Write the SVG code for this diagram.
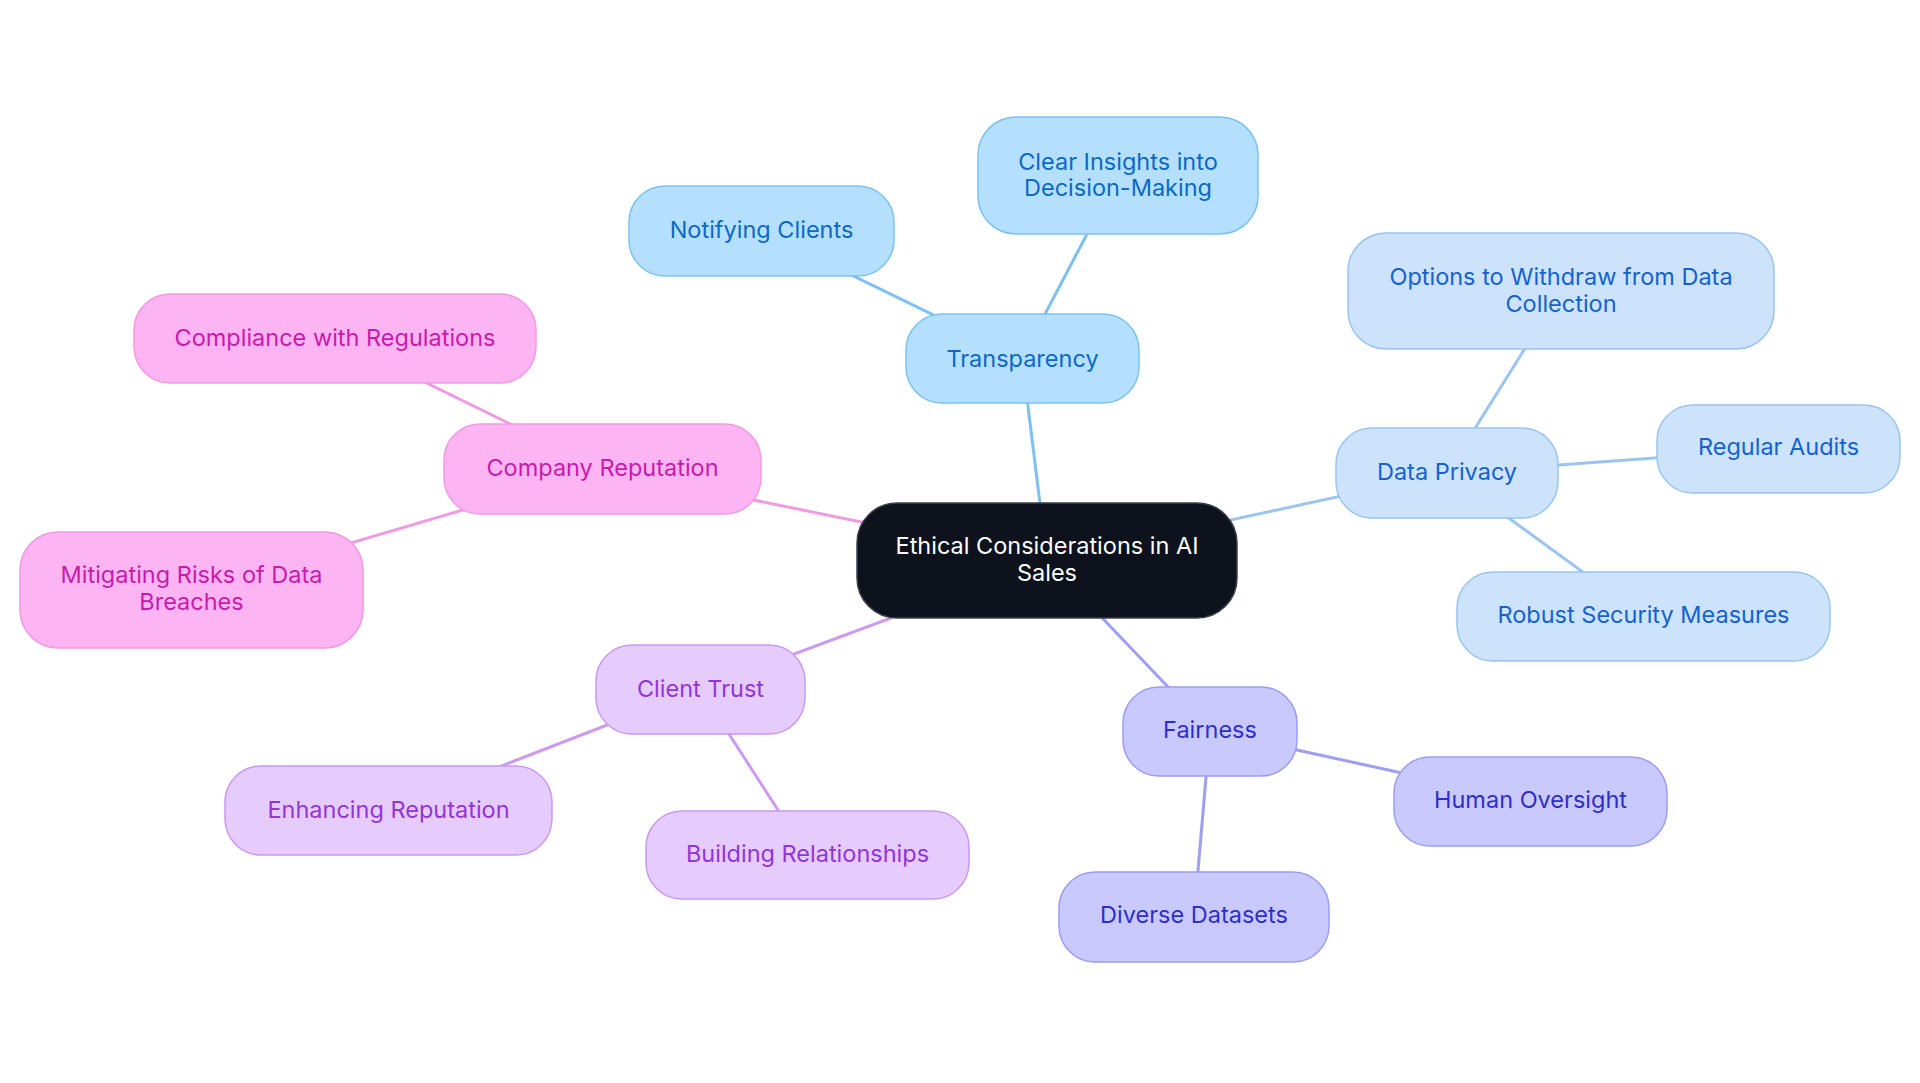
<svg xmlns="http://www.w3.org/2000/svg" width="1920" height="1083" viewBox="0 0 1920 1083">
<style>
text{font-family:Inter,"Noto Sans","Liberation Sans",sans-serif;font-size:23.5px;text-anchor:middle}
.c line{stroke-width:3;fill:none}
.n rect{stroke-width:1.5}
.t rect{fill:#b5e0fd;stroke:#7cc1f1}.t text{fill:#0a69c7}
.d rect{fill:#cde3fb;stroke:#9ac4f0}.d text{fill:#1462cf}
.f rect{fill:#c9c9fd;stroke:#9b9cf2}.f text{fill:#2e2ec9}
.ct rect{fill:#e6cbfd;stroke:#cb98f1}.ct text{fill:#9334d8}
.cr rect{fill:#fdb4f3;stroke:#f09ae2}.cr text{fill:#c81aab}
</style>
<rect width="1920" height="1083" fill="#ffffff"/>
<g id="connectors" class="c">
<line x1="1022" y1="358" x2="1047" y2="560" stroke="#7dc0f1"/>
<line x1="761" y1="231" x2="1022" y2="358" stroke="#7dc0f1"/>
<line x1="1118" y1="175" x2="1022" y2="358" stroke="#7dc0f1"/>
<line x1="1047" y1="560" x2="1447" y2="473" stroke="#9cc4f0"/>
<line x1="1561" y1="291" x2="1447" y2="473" stroke="#9cc4f0"/>
<line x1="1447" y1="473" x2="1778" y2="449" stroke="#9cc4f0"/>
<line x1="1447" y1="473" x2="1643" y2="616" stroke="#9cc4f0"/>
<line x1="1047" y1="560" x2="1210" y2="731" stroke="#9d9ef4"/>
<line x1="1210" y1="731" x2="1530" y2="801" stroke="#9d9ef4"/>
<line x1="1210" y1="731" x2="1194" y2="917" stroke="#9d9ef4"/>
<line x1="1047" y1="560" x2="700" y2="689" stroke="#cc9af2"/>
<line x1="700" y1="689" x2="388" y2="810" stroke="#cc9af2"/>
<line x1="700" y1="689" x2="807" y2="855" stroke="#cc9af2"/>
<line x1="1047" y1="560" x2="602" y2="469" stroke="#f09ae2"/>
<line x1="602" y1="469" x2="335" y2="338" stroke="#f09ae2"/>
<line x1="602" y1="469" x2="191" y2="590" stroke="#f09ae2"/>
</g>
<g id="center">
<rect x="857" y="503" width="380" height="115" rx="40" fill="#0d121c" stroke="#3c4048" stroke-width="1.5"/>
<text x="1047" y="554" fill="#ffffff">Ethical Considerations in AI</text>
<text x="1047" y="581" fill="#ffffff">Sales</text>
</g>
<g id="transparency" class="n t"><rect x="906" y="314" width="233" height="89" rx="36"/><text x="1022.5" y="367">Transparency</text></g>
<g id="notifying-clients" class="n t"><rect x="629" y="186" width="265" height="90" rx="36"/><text x="761.5" y="238">Notifying Clients</text></g>
<g id="clear-insights" class="n t"><rect x="978" y="117" width="280" height="117" rx="38"/><text x="1118" y="170">Clear Insights into</text><text x="1118" y="196">Decision-Making</text></g>
<g id="data-privacy" class="n d"><rect x="1336" y="428" width="222" height="90" rx="36"/><text x="1447" y="480">Data Privacy</text></g>
<g id="options-withdraw" class="n d"><rect x="1348" y="233" width="426" height="116" rx="38"/><text x="1561" y="285">Options to Withdraw from Data</text><text x="1561" y="312">Collection</text></g>
<g id="regular-audits" class="n d"><rect x="1657" y="405" width="243" height="88" rx="36"/><text x="1778.5" y="455">Regular Audits</text></g>
<g id="robust-security" class="n d"><rect x="1457" y="572" width="373" height="89" rx="36"/><text x="1643.5" y="623">Robust Security Measures</text></g>
<g id="fairness" class="n f"><rect x="1123" y="687" width="174" height="89" rx="36"/><text x="1210" y="738">Fairness</text></g>
<g id="human-oversight" class="n f"><rect x="1394" y="757" width="273" height="89" rx="36"/><text x="1530.5" y="808">Human Oversight</text></g>
<g id="diverse-datasets" class="n f"><rect x="1059" y="872" width="270" height="90" rx="36"/><text x="1194" y="923">Diverse Datasets</text></g>
<g id="client-trust" class="n ct"><rect x="596" y="645" width="209" height="89" rx="36"/><text x="700.5" y="697">Client Trust</text></g>
<g id="enhancing-reputation" class="n ct"><rect x="225" y="766" width="327" height="89" rx="36"/><text x="388.5" y="818">Enhancing Reputation</text></g>
<g id="building-relationships" class="n ct"><rect x="646" y="811" width="323" height="88" rx="36"/><text x="807.5" y="862">Building Relationships</text></g>
<g id="company-reputation" class="n cr"><rect x="444" y="424" width="317" height="90" rx="36"/><text x="602.5" y="476">Company Reputation</text></g>
<g id="compliance" class="n cr"><rect x="134" y="294" width="402" height="89" rx="36"/><text x="335" y="346">Compliance with Regulations</text></g>
<g id="mitigating-risks" class="n cr"><rect x="20" y="532" width="343" height="116" rx="38"/><text x="191.5" y="583">Mitigating Risks of Data</text><text x="191.5" y="610">Breaches</text></g>
</svg>
